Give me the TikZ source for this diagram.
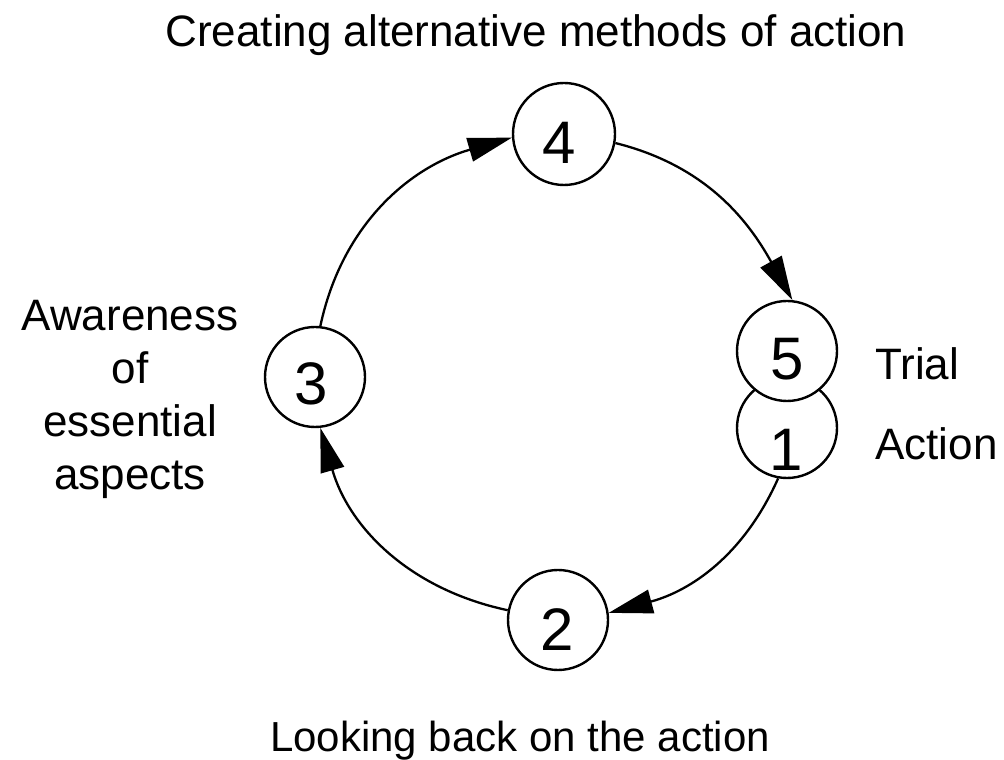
\documentclass[tikz,border=0pt]{standalone}
\usepackage{fontspec}
\setmainfont{Liberation Sans}
\usetikzlibrary{arrows.meta}
\begin{document}
\begin{tikzpicture}[x=1pt,y=1pt,
  ring/.style={circle,draw,line width=2.4pt,minimum size=100pt,inner sep=0pt},
  digit/.style={font=\fontsize{60}{60}\selectfont,inner sep=0pt},
  lbl/.style={font=\fontsize{44}{53}\selectfont,inner sep=0pt},
  flow/.style={line width=2.3pt,-{Triangle[length=44pt,width=24pt]}}]
\useasboundingbox (0,0) rectangle (1004,760);
% circles
\node[ring] (c1) at (787,332) {};
\node[ring,fill=white] (c5) at (787,409) {};
\node[ring,minimum size=102pt] (c4) at (564,626) {};
\node[ring] (c3) at (315,383) {};
\node[ring] (c2) at (558,140) {};
% digits
\node[digit] (d4) at (559,617) {4};
\node[digit] (d5) at (787,401) {5};
\node[digit] (d1) at (786,310) {1};
\node[digit] (d3) at (311,376) {3};
\node[digit] (d2) at (557,130) {2};
% connectors
\draw[flow] (c4.-10) to[out=-14,in=119] (c5.84);
\draw[flow] (c1.-100) to[out=-114,in=15] (c2.8);
\draw[flow] (c2.169) to[out=168,in=-74] (c3.-84);
\draw[flow] (c3.84) to[out=78,in=-164] (c4.184);
% labels
\node[lbl,anchor=base] (top) at (536,713) {Creating alternative methods of action};
\node[lbl,anchor=base,font=\fontsize{42}{50}\selectfont] (bot) at (520,8) {Looking back on the action};
\node[lbl,align=center,anchor=base] (aware) at (130,270) {Awareness\\of\\essential\\aspects};
\node[lbl,anchor=base west] (trial) at (875,380) {Trial};
\node[lbl,anchor=base west] (action) at (875,300) {Action};
\end{tikzpicture}
\end{document}
